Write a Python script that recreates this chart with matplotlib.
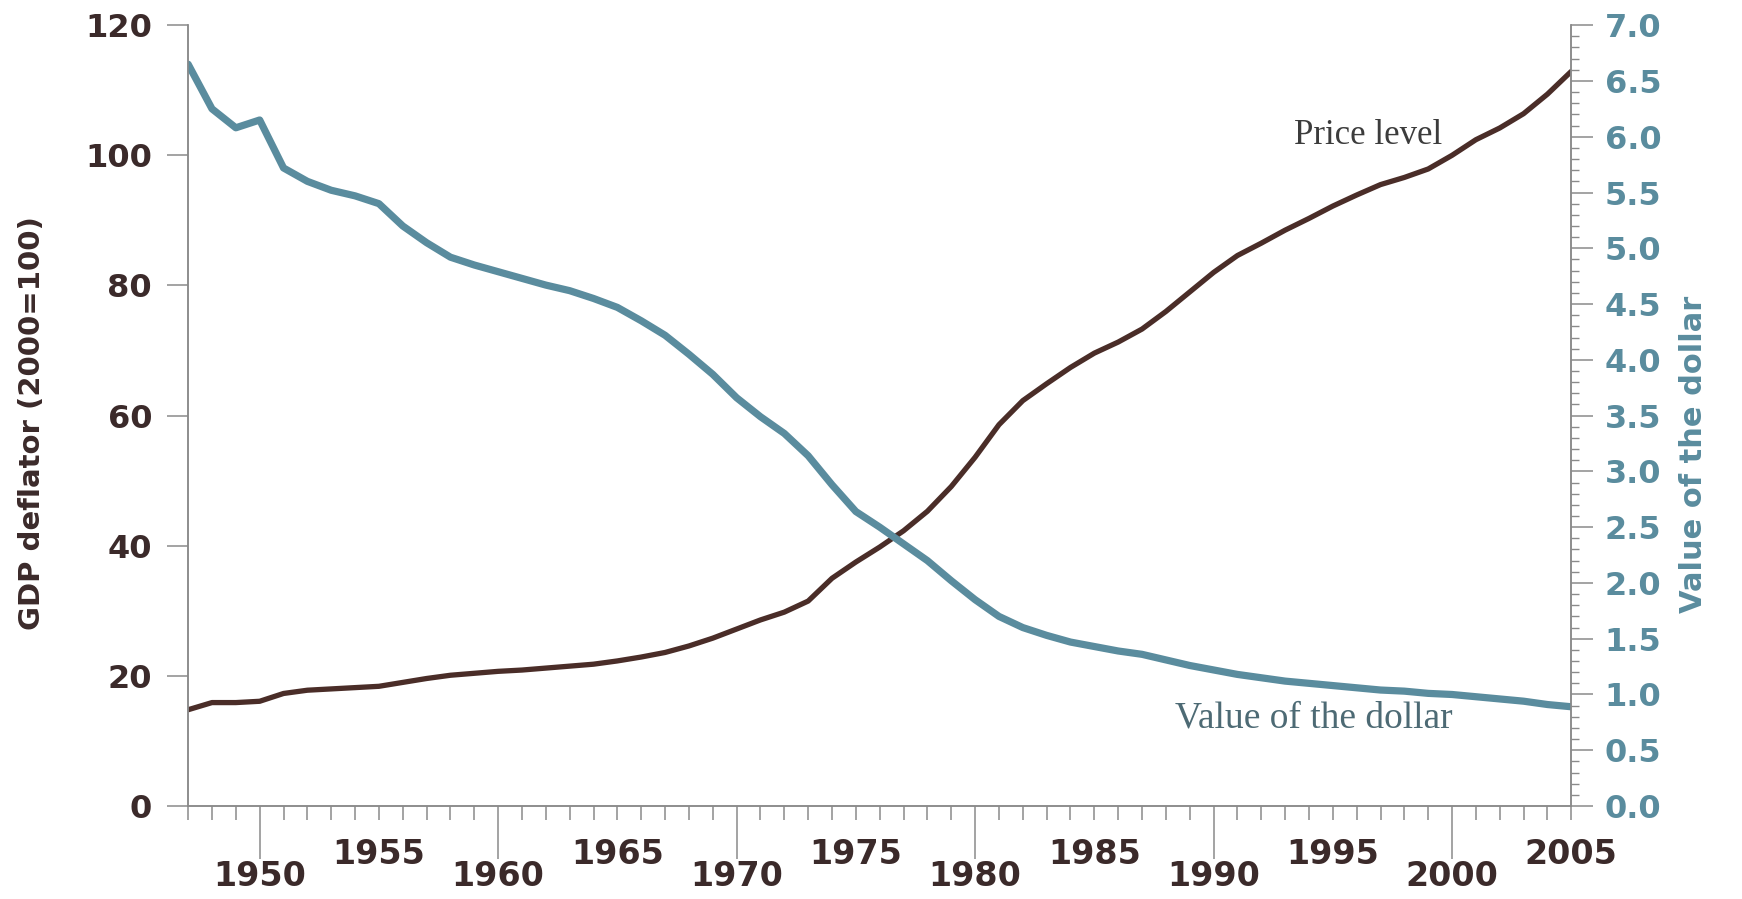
import numpy as np
import matplotlib
matplotlib.use("Agg")
import matplotlib.pyplot as plt
from matplotlib.ticker import MultipleLocator, FixedLocator, FuncFormatter

# annual values
years = list(range(1947, 2006))

price_level = [
    14.8, 15.9, 15.9, 16.1, 17.3, 17.8, 18.0, 18.2, 18.4, 19.0,
    19.6, 20.1, 20.4, 20.7, 20.9, 21.2, 21.5, 21.8, 22.3, 22.9,
    23.6, 24.6, 25.8, 27.2, 28.6, 29.8, 31.5, 35.0, 37.5, 39.8,
    42.3, 45.3, 49.1, 53.6, 58.6, 62.3, 64.9, 67.4, 69.6, 71.3,
    73.3, 76.0, 79.0, 82.0, 84.6, 86.5, 88.5, 90.3, 92.2, 93.9,
    95.5, 96.6, 97.9, 100.0, 102.4, 104.2, 106.4, 109.4, 112.9,
]

dollar_value = [
    6.65, 6.25, 6.08, 6.15, 5.72, 5.60, 5.52, 5.47, 5.40, 5.20,
    5.05, 4.92, 4.85, 4.79, 4.73, 4.67, 4.62, 4.55, 4.47, 4.35,
    4.22, 4.05, 3.87, 3.66, 3.49, 3.34, 3.14, 2.88, 2.64, 2.50,
    2.35, 2.20, 2.02, 1.85, 1.70, 1.60, 1.53, 1.47, 1.43, 1.39,
    1.36, 1.31, 1.26, 1.22, 1.18, 1.15, 1.12, 1.10, 1.08, 1.06,
    1.04, 1.03, 1.01, 1.00, 0.98, 0.96, 0.94, 0.91, 0.89,
]

decade_years = [1950, 1960, 1970, 1980, 1990, 2000]
half_years = [1955, 1965, 1975, 1985, 1995, 2005]

brown = "#4a2d28"
teal = "#5a8c9e"
dark = "#3b2a2a"
axis_gray = "#8a8a8a"

fig = plt.figure(figsize=(17.42, 8.99), dpi=100)
ax = fig.add_axes([0.108, 0.1034, 0.794, 0.8686])
ax2 = ax.twinx()

ax.plot(years, price_level, color=brown, lw=3.8, solid_capstyle="round")
ax2.plot(years, dollar_value, color=teal, lw=5.2, solid_capstyle="round")

ax.set_xlim(1947, 2005)
ax.set_ylim(0, 120)
ax2.set_ylim(0, 7)

for a in (ax, ax2):
    a.spines["top"].set_visible(False)
    for s in ("left", "right", "bottom"):
        a.spines[s].set_color(axis_gray)
        a.spines[s].set_linewidth(1.1)

# left axis
ax.set_yticks(range(0, 121, 20))
ax.tick_params(axis="y", direction="out", length=15, width=1.1, color=axis_gray,
               pad=11, labelsize=23, labelcolor=dark)
for t in ax.get_yticklabels():
    t.set_fontweight("bold")
ax.set_ylabel("GDP deflator (2000=100)", fontsize=21, fontweight="bold", color=dark)
ax.yaxis.set_label_coords(-0.103, 0.49)

# x axis: long decade ticks with low labels, yearly short ticks, half-decade labels high
ax.xaxis.set_major_locator(FixedLocator(decade_years))
ax.xaxis.set_major_formatter(FuncFormatter(lambda v, p: f"{int(round(v))}"))
minor_years = [y for y in years if y not in decade_years]
ax.xaxis.set_minor_locator(FixedLocator(minor_years))
ax.xaxis.set_minor_formatter(FuncFormatter(
    lambda v, p: f"{int(round(v))}" if int(round(v)) in half_years else ""))
ax.tick_params(axis="x", which="major", direction="out", length=38, width=1.1,
               color=axis_gray, pad=1, labelsize=24, labelcolor=dark)
ax.tick_params(axis="x", which="minor", direction="out", length=10, width=1.1,
               color=axis_gray, pad=13, labelsize=24, labelcolor=dark)
for t in ax.get_xticklabels(which="both"):
    t.set_fontweight("bold")

# right axis
ax2.yaxis.set_major_locator(MultipleLocator(0.5))
ax2.yaxis.set_minor_locator(MultipleLocator(0.1))
ax2.yaxis.set_major_formatter(FuncFormatter(lambda v, p: f"{v:.1f}"))
ax2.tick_params(axis="y", which="major", direction="out", length=16, width=1.1,
                color=axis_gray, pad=8, labelsize=23, labelcolor=teal)
ax2.tick_params(axis="y", which="minor", direction="out", length=6, width=1.0,
                color=axis_gray)
for t in ax2.get_yticklabels():
    t.set_fontweight("bold")
ax2.set_ylabel("Value of the dollar", fontsize=22, fontweight="bold", color=teal,
               rotation=90)
ax2.yaxis.set_label_coords(1.078, 0.45)

ax.text(1996.5, 103, "Price level", family="Liberation Serif", fontsize=25,
        color="#3c3c3c", ha="center", va="center")
ax.text(1994.2, 13.5, "Value of the dollar", family="Liberation Serif", fontsize=27,
        color="#4d6a74", ha="center", va="center")

fig.savefig("out.png", dpi=100, facecolor="white")
